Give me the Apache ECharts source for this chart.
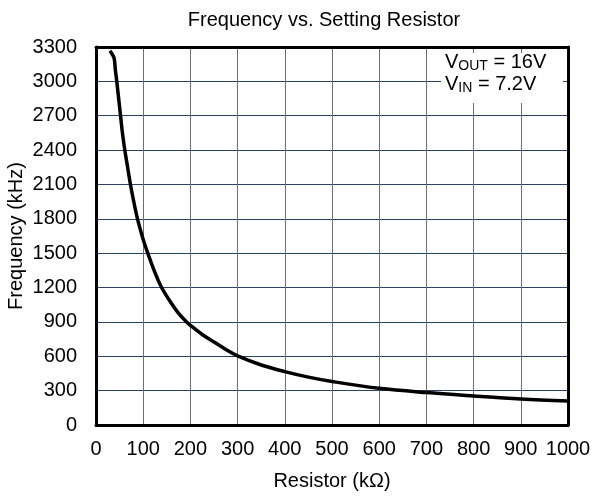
<!DOCTYPE html>
<html>
<head>
<meta charset="utf-8">
<script src="https://cdn.jsdelivr.net/npm/echarts@6/dist/echarts.min.js"></script>
<style>html,body{margin:0;padding:0;background:#fff}#c{width:595px;height:496px}</style>
</head>
<body>
<div id="c"></div>
<script>
var titleText = 'Frequency vs. Setting Resistor';
var xName = 'Resistor (k\u03A9)';
var yName = 'Frequency (kHz)';
var resistor = [29.6, 34, 38.5, 41, 44, 48, 52, 56, 61, 67, 73, 80, 87, 94, 100, 108, 114, 125, 139, 160, 175, 192, 200, 225, 250, 275, 300, 350, 400, 450, 500, 600, 700, 800, 900, 1000];
var frequency = [3268, 3240, 3200, 3100, 3000, 2850, 2700, 2550, 2400, 2250, 2100, 1950, 1815, 1705, 1620, 1520, 1450, 1330, 1200, 1060, 975, 900, 870, 790, 725, 660, 603, 524, 466, 418, 380, 320, 283, 254, 228, 210];
var xMin = 0, xMax = 1000, xStep = 100;
var yMin = 0, yMax = 3300, yStep = 300;

var FONT = '"Liberation Sans", Arial, sans-serif';
var pts = resistor.map(function (r, i) { return [r, frequency[i]]; });
var plain = function (v) { return String(v); };

var chart = echarts.init(document.getElementById('c'), null, {renderer: 'canvas'});
chart.setOption({
  animation: false,
  backgroundColor: '#fff',
  title: {
    text: titleText, left: 319, top: 5, textAlign: 'center',
    textStyle: {fontFamily: FONT, fontSize: 20, fontWeight: 'normal', color: '#000'}
  },
  grid: {left: 96, right: 27, top: 47, bottom: 71, containLabel: false, outerBoundsMode: 'none'},
  xAxis: [{
    type: 'value', min: xMin, max: xMax, interval: xStep,
    name: xName, nameLocation: 'middle', nameGap: 46, nameMoveOverlap: false,
    nameTextStyle: {fontFamily: FONT, fontSize: 20, color: '#000'},
    axisLine: {show: true, lineStyle: {color: '#000', width: 3}},
    axisTick: {show: false},
    axisLabel: {fontFamily: FONT, fontSize: 20, color: '#000', margin: 14, formatter: plain},
    splitLine: {show: true, lineStyle: {color: '#6e6e6e', width: 1}}
  }, {
    type: 'value', position: 'top', min: xMin, max: xMax, interval: xStep,
    axisLine: {show: true, onZero: false, lineStyle: {color: '#000', width: 3}},
    axisTick: {show: false}, axisLabel: {show: false}, splitLine: {show: false}
  }],
  yAxis: [{
    type: 'value', min: yMin, max: yMax, interval: yStep,
    name: yName, nameLocation: 'middle', nameGap: 70, nameRotate: 90, nameMoveOverlap: false,
    nameTextStyle: {fontFamily: FONT, fontSize: 20, color: '#000'},
    axisLine: {show: true, lineStyle: {color: '#000', width: 3}},
    axisTick: {show: false},
    axisLabel: {fontFamily: FONT, fontSize: 20, color: '#000', margin: 19, formatter: plain},
    splitLine: {show: true, lineStyle: {color: '#2b4466', width: 1}}
  }, {
    type: 'value', position: 'right', min: yMin, max: yMax, interval: yStep,
    axisLine: {show: true, onZero: false, lineStyle: {color: '#000', width: 3}},
    axisTick: {show: false}, axisLabel: {show: false}, splitLine: {show: false}
  }],
  series: [{
    type: 'line', data: pts, smooth: 0.35, showSymbol: false,
    lineStyle: {color: '#000', width: 3.5}, z: 5
  }],
  graphic: [{
    type: 'rect', shape: {x: 441, y: 53, width: 122, height: 50},
    style: {fill: '#fff'}, z: 10
  }, {
    type: 'text', x: 445, y: 51, z: 11,
    style: {
      text: '{v|V}{s|OUT}{v| = 16V}\n{v|V}{s|IN}{v| = 7.2V}',
      fill: '#000',
      rich: {
        v: {fontFamily: FONT, fontSize: 20, lineHeight: 22, fill: '#000'},
        s: {fontFamily: FONT, fontSize: 14, lineHeight: 14, verticalAlign: 'bottom', fill: '#000'}
      }
    }
  }]
});
</script>
</body>
</html>
